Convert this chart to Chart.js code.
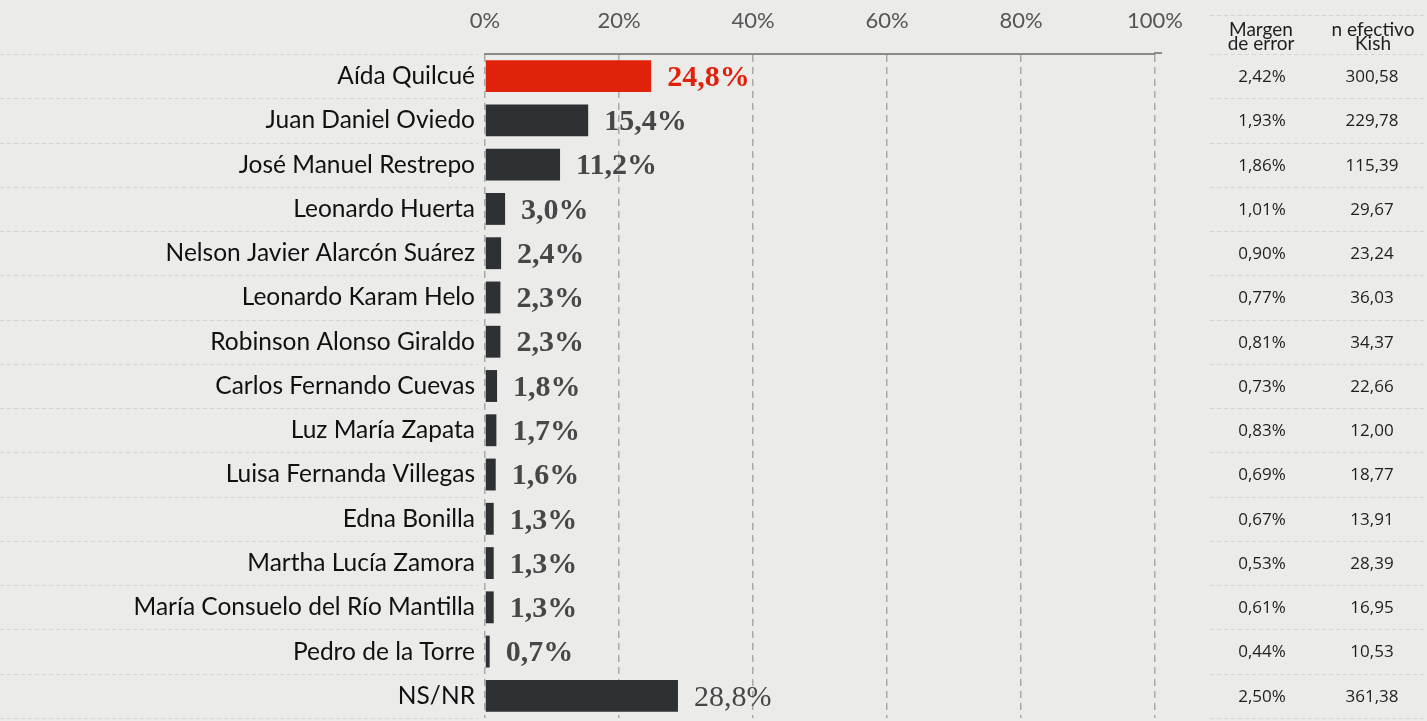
<!DOCTYPE html>
<html>
<head>
<meta charset="utf-8">
<script src="https://cdn.jsdelivr.net/npm/chart.js@4.4.1/dist/chart.umd.min.js"></script>
<style>
  html, body { margin: 0; padding: 0; background: #ebebe9; }
  #wrap { width: 1427px; height: 721px; position: relative; }
</style>
</head>
<body>
<div id="wrap"><canvas id="pollChart" width="1427" height="721"></canvas></div>
<script>
// Data
const categories = [
  "Aída Quilcué", "Juan Daniel Oviedo", "José Manuel Restrepo", "Leonardo Huerta",
  "Nelson Javier Alarcón Suárez", "Leonardo Karam Helo", "Robinson Alonso Giraldo",
  "Carlos Fernando Cuevas", "Luz María Zapata", "Luisa Fernanda Villegas",
  "Edna Bonilla", "Martha Lucía Zamora", "María Consuelo del Río Mantilla",
  "Pedro de la Torre", "NS/NR"
];
const values = [24.8, 15.4, 11.2, 3.0, 2.4, 2.3, 2.3, 1.8, 1.7, 1.6, 1.3, 1.3, 1.3, 0.7, 28.8];
const marginError = ["2,42%", "1,93%", "1,86%", "1,01%", "0,90%", "0,77%", "0,81%", "0,73%",
  "0,83%", "0,69%", "0,67%", "0,53%", "0,61%", "0,44%", "2,50%"];
const kishN = ["300,58", "229,78", "115,39", "29,67", "23,24", "36,03", "34,37", "22,66",
  "12,00", "18,77", "13,91", "28,39", "16,95", "10,53", "361,38"];
const xTickValues = [0, 20, 40, 60, 80, 100];
const tableHeaders = [["Margen", "de error"], ["n efectivo", "Kish"]];

const RED = "#e0220a";
const DARK = "#2d3133";

// background + dashed row separators in label and table areas
const backdrop = {
  id: "backdrop",
  beforeDraw(chart) {
    const ctx = chart.ctx;
    const y = chart.scales.y;
    ctx.save();
    ctx.fillStyle = "#ebebe9";
    ctx.fillRect(0, 0, chart.width, chart.height);
    const step = y.getPixelForValue(1) - y.getPixelForValue(0);
    ctx.strokeStyle = "#d4d4d2";
    ctx.lineWidth = 1;
    ctx.setLineDash([4, 3]);
    for (let i = 0; i <= categories.length; i++) {
      const py = Math.round(y.getPixelForValue(i) - step / 2) + 0.5;
      ctx.beginPath();
      ctx.moveTo(0, py); ctx.lineTo(478, py);
      ctx.moveTo(1210, py); ctx.lineTo(chart.width, py);
      ctx.stroke();
    }
    ctx.beginPath();
    ctx.moveTo(1210, 15.5); ctx.lineTo(chart.width, 15.5);
    ctx.stroke();
    ctx.restore();
  }
};

// value labels next to bars, plus the side table
const annotations = {
  id: "annotations",
  afterDatasetsDraw(chart) {
    const ctx = chart.ctx;
    const meta = chart.getDatasetMeta(0);
    const area = chart.chartArea;
    ctx.save();
    // top axis line runs a little past the 100% gridline
    ctx.strokeStyle = "#8a8a8a";
    ctx.lineWidth = 2;
    ctx.beginPath();
    ctx.moveTo(area.right - 1, area.top - 1);
    ctx.lineTo(area.right + 7, area.top - 1);
    ctx.stroke();

    ctx.textBaseline = "middle";
    meta.data.forEach((bar, i) => {
      const last = i === values.length - 1;
      ctx.font = (last ? "" : "bold ") + "30px 'Liberation Serif'";
      ctx.fillStyle = i === 0 ? RED : "#474747";
      ctx.textAlign = "left";
      ctx.fillText(values[i].toFixed(1).replace(".", ",") + "%", bar.x + 16, bar.y + 2);

      ctx.font = "17px 'Open Sans'";
      ctx.fillStyle = "#1e1e1e";
      ctx.textAlign = "center";
      ctx.fillText(marginError[i], 1262, bar.y + 1);
      ctx.fillText(kishN[i], 1372, bar.y + 1);
    });
    ctx.font = "19px Lato";
    ctx.fillStyle = "#1e1e1e";
    ctx.textAlign = "center";
    [1261, 1373].forEach((cx, k) => {
      ctx.fillText(tableHeaders[k][0], cx, 30);
      ctx.fillText(tableHeaders[k][1], cx, 44);
    });
    ctx.restore();
  }
};

const chart = new Chart(document.getElementById("pollChart").getContext("2d"), {
  type: "bar",
  data: {
    labels: categories,
    datasets: [{
      data: values,
      backgroundColor: values.map((v, i) => i === 0 ? RED : DARK),
      barPercentage: 0.72,
      categoryPercentage: 1.0
    }]
  },
  options: {
    indexAxis: "y",
    responsive: false,
    animation: false,
    layout: { padding: { top: 0, right: 272, bottom: 3, left: 0 } },
    plugins: { legend: { display: false }, tooltip: { enabled: false } },
    scales: {
      x: {
        position: "top",
        min: 0,
        max: 100,
        afterFit(scale) {
          scale.height = 54;
          scale.paddingLeft = 0; scale.paddingRight = 0;
        },
        afterBuildTicks(scale) { scale.ticks = xTickValues.map(v => ({ value: v })); },
        ticks: {
          color: "#555",
          font: { family: "Lato", size: 22 },
          padding: 20,
          callback: v => v + "%"
        },
        grid: {
          color: "#a9a9a9",
          lineWidth: 1.5,
          drawTicks: false
        },
        border: { display: true, color: "#8a8a8a", width: 2, dash: [7, 5] }
      },
      y: {
        afterFit(scale) {
          scale.width = 485;
          scale.paddingTop = 0; scale.paddingBottom = 0;
        },
        ticks: {
          color: "#111",
          font: { family: "Lato", size: 24.5 },
          padding: 2
        },
        grid: { display: false },
        border: { display: false }
      }
    }
  },
  plugins: [backdrop, annotations]
});
</script>
</body>
</html>
